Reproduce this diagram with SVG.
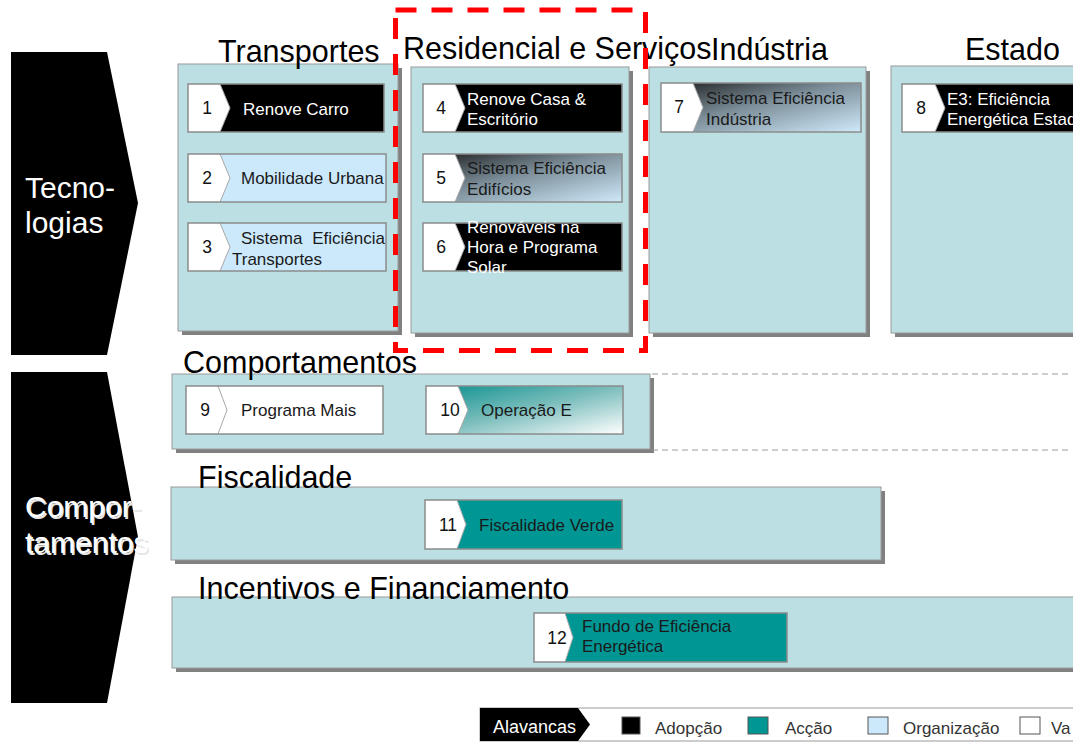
<svg xmlns="http://www.w3.org/2000/svg" width="1080" height="742" viewBox="0 0 1080 742">
<defs>
<linearGradient id="gDark" x1="0" y1="0" x2="1" y2="1">
<stop offset="0" stop-color="#1a1a1a"/><stop offset="0.45" stop-color="#7a8c97"/><stop offset="1" stop-color="#cfeafb"/>
</linearGradient>
<linearGradient id="gTeal" x1="0" y1="0" x2="1" y2="1">
<stop offset="0" stop-color="#078f8c"/><stop offset="0.5" stop-color="#7cbebd"/><stop offset="1" stop-color="#ffffff"/>
</linearGradient>
<style>
text{font-family:"Liberation Sans",Arial,sans-serif}
.panel{fill:#BBDFE2;stroke:#9a9a9a;stroke-width:1}
.shadow{fill:#808080}
.hdr{font-size:30.5px;fill:#000}
.side{font-size:30px;fill:#fff}
.sideSh{font-size:30px;fill:#e6e6e6}
.frame{fill:none;stroke:#8c8c8c;stroke-width:1.5}
.chev{fill:#fff}
.chevL{fill:none;stroke:#a8a8a8;stroke-width:1}
.num{font-size:17.5px;fill:#111;text-anchor:middle}
.lbl{font-size:17px}
.w{fill:#fff}
.d{fill:#1a1a1a}
.blk{fill:#000}
.teal{fill:#009694}
.lb{fill:#CCE9FB}
.wh{fill:#fff}
.dash{stroke:#9a9a9a;stroke-width:1;stroke-dasharray:6 4;fill:none}
.red{fill:none;stroke:#ff0000;stroke-width:5;stroke-dasharray:21 15}
.leg{font-size:17px;fill:#333}
.sq{stroke:#555;stroke-width:1}
</style>
</defs>
<rect x="0" y="0" width="1080" height="742" fill="#ffffff"/>

<!-- side arrows -->
<g id="tecnologias">
<polygon points="11,52 107,52 138,203 107,355 11,355" fill="#000"/>
<text class="side" x="25" y="198">Tecno-</text>
<text class="side" x="25" y="233">logias</text>
</g>
<g id="comportamentos-side">
<polygon points="11,372 107,372 138,537 107,703 11,703" fill="#000"/>
<text class="sideSh" x="26.5" y="518.5">Compor-</text>
<text class="sideSh" x="26.5" y="554.5">tamentos</text>
<text class="side" x="25" y="517">Compor-</text>
<text class="side" x="25" y="553">tamentos</text>
</g>

<!-- panels -->
<g id="panel-transportes">
<rect class="shadow" x="182" y="68" width="220" height="267"/>
<rect class="panel" x="178" y="64" width="220" height="267"/>
<text class="hdr" x="218" y="62">Transportes</text>
</g>
<g id="panel-residencial">
<rect class="shadow" x="415" y="71" width="218" height="266"/>
<rect class="panel" x="411" y="67" width="218" height="266"/>
<text class="hdr" x="403" y="59">Residencial e Serviços</text>
</g>
<g id="panel-industria">
<rect class="shadow" x="653" y="71" width="217" height="266"/>
<rect class="panel" x="649" y="67" width="217" height="266"/>
<text class="hdr" x="711" y="60">Indústria</text>
</g>
<g id="panel-estado">
<rect class="shadow" x="895" y="70" width="200" height="267"/>
<rect class="panel" x="891" y="66" width="200" height="267"/>
<text class="hdr" x="965" y="60">Estado</text>
</g>
<g id="panel-comportamentos">
<rect class="shadow" x="176" y="378" width="478" height="75"/>
<rect class="panel" x="172" y="374" width="478" height="75"/>
<text class="hdr" x="183" y="373">Comportamentos</text>
</g>
<g id="panel-fiscalidade">
<rect class="shadow" x="175" y="491" width="710" height="73"/>
<rect class="panel" x="171" y="487" width="710" height="73"/>
<text class="hdr" x="198" y="488">Fiscalidade</text>
</g>
<g id="panel-incentivos">
<rect class="shadow" x="176" y="601" width="910" height="71"/>
<rect class="panel" x="172" y="597" width="910" height="71"/>
<text class="hdr" x="198" y="599">Incentivos e Financiamento</text>
</g>

<g id="connectors">
<line class="dash" x1="652" y1="374" x2="1072" y2="374"/>
<line class="dash" x1="652" y1="450" x2="1072" y2="450"/>
</g>

<!-- nodes -->
<g id="n1">
<rect class="blk" x="188" y="84" width="196" height="48"/>
<polygon class="chev" points="188,84 220,84 230,108 220,132 188,132"/>
<polyline class="chevL" points="220,84 230,108 220,132"/>
<rect class="frame" x="188" y="84" width="196" height="48"/>
<text class="num" x="207" y="114">1</text>
<text class="lbl w" x="243" y="115">Renove Carro</text>
</g>
<g id="n2">
<rect class="lb" x="188" y="154" width="198" height="48"/>
<polygon class="chev" points="188,154 220,154 230,178 220,202 188,202"/>
<polyline class="chevL" points="220,154 230,178 220,202"/>
<rect class="frame" x="188" y="154" width="198" height="48"/>
<text class="num" x="207" y="184">2</text>
<text class="lbl d" x="241" y="184">Mobilidade Urbana</text>
</g>
<g id="n3">
<rect class="lb" x="188" y="223" width="198" height="48"/>
<polygon class="chev" points="188,223 220,223 230,247 220,271 188,271"/>
<polyline class="chevL" points="220,223 230,247 220,271"/>
<rect class="frame" x="188" y="223" width="198" height="48"/>
<text class="num" x="207" y="253">3</text>
<text class="lbl d" x="241" y="244">Sistema</text>
<text class="lbl d" x="385" y="244" text-anchor="end">Eficiência</text>
<text class="lbl d" x="232" y="265">Transportes</text>
</g>
<g id="n4">
<rect class="blk" x="423" y="84" width="199" height="48"/>
<polygon class="chev" points="423,84 455,84 465,108 455,132 423,132"/>
<polyline class="chevL" points="455,84 465,108 455,132"/>
<rect class="frame" x="423" y="84" width="199" height="48"/>
<text class="num" x="441" y="114">4</text>
<text class="lbl w" x="467" y="105">Renove Casa &amp;</text>
<text class="lbl w" x="467" y="125">Escritório</text>
</g>
<g id="n5">
<rect fill="url(#gDark)" x="423" y="154" width="199" height="48"/>
<polygon class="chev" points="423,154 455,154 465,178 455,202 423,202"/>
<polyline class="chevL" points="455,154 465,178 455,202"/>
<rect class="frame" x="423" y="154" width="199" height="48"/>
<text class="num" x="441" y="184">5</text>
<text class="lbl d" x="467" y="174">Sistema Eficiência</text>
<text class="lbl d" x="467" y="195">Edifícios</text>
</g>
<g id="n6">
<rect class="blk" x="423" y="223" width="199" height="48"/>
<polygon class="chev" points="423,223 455,223 465,247 455,271 423,271"/>
<polyline class="chevL" points="455,223 465,247 455,271"/>
<rect class="frame" x="423" y="223" width="199" height="48"/>
<text class="num" x="441" y="253">6</text>
<text class="lbl w" x="467" y="233">Renováveis na</text>
<text class="lbl w" x="467" y="253">Hora e Programa</text>
<text class="lbl w" x="467" y="273">Solar</text>
</g>
<g id="n7">
<rect fill="url(#gDark)" x="661" y="83" width="200" height="49"/>
<polygon class="chev" points="661,83 693,83 703,107.5 693,132 661,132"/>
<polyline class="chevL" points="693,83 703,107.5 693,132"/>
<rect class="frame" x="661" y="83" width="200" height="49"/>
<text class="num" x="679" y="113">7</text>
<text class="lbl d" x="706" y="104">Sistema Eficiência</text>
<text class="lbl d" x="706" y="125">Indústria</text>
</g>
<g id="n8">
<rect class="blk" x="902" y="84" width="200" height="48"/>
<polygon class="chev" points="902,84 935,84 945,108 935,132 902,132"/>
<polyline class="chevL" points="935,84 945,108 935,132"/>
<rect class="frame" x="902" y="84" width="200" height="48"/>
<text class="num" x="921" y="114">8</text>
<text class="lbl w" x="947" y="105">E3: Eficiência</text>
<text class="lbl w" x="947" y="125">Energética Estad</text>
</g>
<g id="n9">
<rect class="wh" x="186" y="386" width="197" height="48"/>
<polyline class="chevL" points="218,386 227,410 218,434"/>
<rect class="frame" x="186" y="386" width="197" height="48"/>
<text class="num" x="205" y="416">9</text>
<text class="lbl d" x="241" y="416">Programa Mais</text>
</g>
<g id="n10">
<rect fill="url(#gTeal)" x="426" y="386" width="197" height="48"/>
<polygon class="chev" points="426,386 458,386 468,410 458,434 426,434"/>
<polyline class="chevL" points="458,386 468,410 458,434"/>
<rect class="frame" x="426" y="386" width="197" height="48"/>
<text class="num" x="450" y="416">10</text>
<text class="lbl d" x="481" y="416">Operação E</text>
</g>
<g id="n11">
<rect class="teal" x="425" y="500" width="197" height="49"/>
<polygon class="chev" points="425,500 457,500 466,524.5 457,549 425,549"/>
<polyline class="chevL" points="457,500 466,524.5 457,549"/>
<rect class="frame" x="425" y="500" width="197" height="49"/>
<text class="num" x="448" y="531">11</text>
<text class="lbl d" x="479" y="531">Fiscalidade Verde</text>
</g>
<g id="n12">
<rect class="teal" x="534" y="613" width="253" height="49"/>
<polygon class="chev" points="534,613 565,613 573,637.5 565,662 534,662"/>
<polyline class="chevL" points="565,613 573,637.5 565,662"/>
<rect class="frame" x="534" y="613" width="253" height="49"/>
<text class="num" x="557" y="644">12</text>
<text class="lbl d" x="582" y="632">Fundo de Eficiência</text>
<text class="lbl d" x="582" y="652">Energética</text>
</g>

<!-- highlight -->
<rect id="highlight" class="red" x="395.5" y="10" width="250" height="340.5"/>

<!-- legend -->
<g id="legend">
<rect x="480" y="708" width="610" height="33" fill="#fff" stroke="#999" stroke-width="1"/>
<polygon points="480,708 578,708 590,724.5 578,741 480,741" fill="#000"/>
<text x="493" y="733" font-size="18" fill="#fff">Alavancas</text>
<rect class="sq" x="622" y="717" width="18" height="17" fill="#000"/>
<text class="leg" x="655" y="734">Adopção</text>
<rect class="sq" x="748" y="717" width="20" height="17" fill="#009694"/>
<text class="leg" x="785" y="734">Acção</text>
<rect class="sq" x="868" y="717" width="20" height="17" fill="#CCE9FB"/>
<text class="leg" x="903" y="734">Organização</text>
<rect class="sq" x="1020" y="717" width="20" height="17" fill="#fff"/>
<text class="leg" x="1051" y="734">Va</text>
</g>

<rect x="1073" y="0" width="7" height="742" fill="#ffffff"/>
</svg>
